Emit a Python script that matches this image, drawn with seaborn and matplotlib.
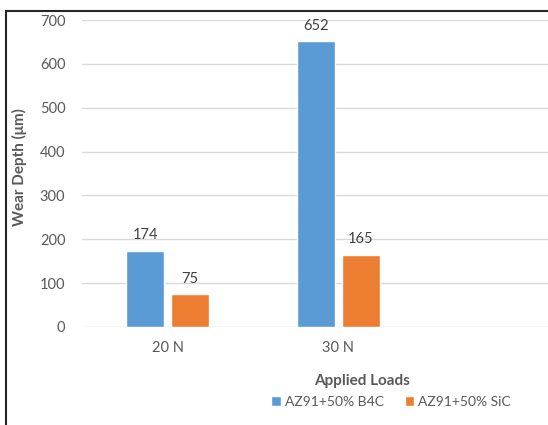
import pandas as pd
import seaborn as sns
import matplotlib.pyplot as plt
from matplotlib.patches import Rectangle

loads = ["20 N", "30 N"]
series = ["AZ91+50% B4C", "AZ91+50% SiC"]
b4c_depth = [174, 652]
sic_depth = [75, 165]

df = pd.DataFrame({
    "load": loads * 2,
    "material": [series[0]] * 2 + [series[1]] * 2,
    "depth": b4c_depth + sic_depth,
})

sns.set_style("white")
plt.rcParams["font.family"] = ["Lato", "DejaVu Sans"]
txt = "#595959"

fig = plt.figure(figsize=(5.48, 4.25), dpi=100)
# plot area runs past the right edge of the picture (cropped original)
ax = fig.add_axes([82 / 548, 1 - 327 / 425, 513 / 548, 307 / 425])

sns.barplot(data=df, x="load", y="depth", hue="material",
            palette=["#5B9BD5", "#ED7D31"], width=0.52, gap=0.15,
            saturation=1, ax=ax, legend=True)

ax.set_xlim(-0.5, 2.5)
ax.set_ylim(0, 700)
ax.set_yticks(range(0, 701, 100))
ax.grid(axis="y", color="#D9D9D9", lw=1)
ax.set_axisbelow(True)
for s in ax.spines.values():
    s.set_visible(False)
ax.tick_params(length=0, labelsize=10.5, colors=txt)
ax.tick_params(axis="x", pad=10)
ax.tick_params(axis="y", pad=12)

for c in ax.containers:
    ax.bar_label(c, padding=6, fontsize=10.5, color="#404040")

ax.set_xlabel("Applied Loads", fontsize=11, fontweight="bold", color=txt)
ax.xaxis.set_label_coords(0.546, -0.152)
ax.set_ylabel("Wear Depth (μm)", fontsize=11, fontweight="bold", color=txt)
ax.yaxis.set_label_coords(-0.108, 0.52)

handles, labels = ax.get_legend_handles_labels()
ax.get_legend().remove()
fig.legend(handles, labels, loc="center", bbox_to_anchor=(391 / 548, 1 - 402 / 425),
           ncol=2, frameon=False, fontsize=10, handlelength=0.7, handleheight=0.7,
           handletextpad=0.3, columnspacing=1.5, labelcolor=txt)

fig.add_artist(Rectangle((6 / 548, -0.1), 1.2, 0.1 + 1 - 11 / 425,
                         transform=fig.transFigure, fill=False,
                         ec="#262626", lw=1.5))

fig.savefig("out.png", dpi=100)
